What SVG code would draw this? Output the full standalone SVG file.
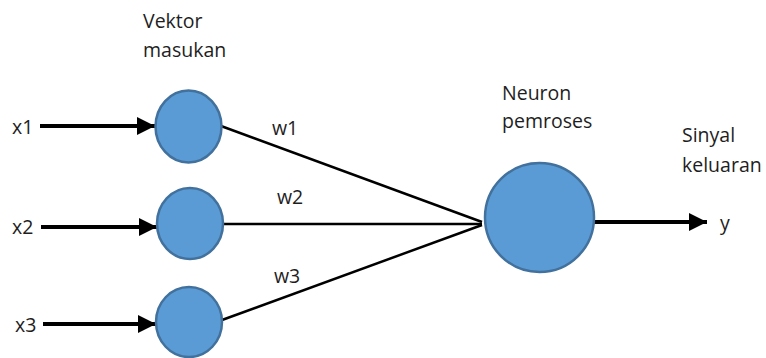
<svg xmlns="http://www.w3.org/2000/svg" width="766" height="358" viewBox="0 0 766 358">
  <style>
    text { font-family: "Open Sans", "Liberation Sans", Arial, sans-serif; font-size: 19.5px; fill: #1e1e1e; }
    .node { fill: #5B9BD5; stroke: #41719C; stroke-width: 2.5; }
    .arrow { stroke: #000; stroke-width: 4; fill: none; }
    .link { stroke: #000; stroke-width: 2.5; fill: none; }
  </style>
  <defs>
    <marker id="head" viewBox="0 0 10 10" refX="10" refY="5" markerWidth="4.5" markerHeight="4.5" markerUnits="strokeWidth" orient="auto">
      <path d="M0,0 L10,5 L0,10 Z" fill="#000"/>
    </marker>
  </defs>

  <rect width="766" height="358" fill="#fff"/>

  <!-- captions -->
  <text x="143" y="28">Vektor</text>
  <text x="143" y="57">masukan</text>
  <text x="502" y="100">Neuron</text>
  <text x="502" y="128">pemroses</text>
  <text x="682" y="142">Sinyal</text>
  <text x="682" y="172">keluaran</text>

  <!-- connectors -->
  <g id="connectors">
    <line class="arrow" x1="40" y1="126" x2="155" y2="126" marker-end="url(#head)"/>
    <line class="arrow" x1="41" y1="227" x2="157" y2="227" marker-end="url(#head)"/>
    <line class="arrow" x1="43" y1="324" x2="156" y2="324" marker-end="url(#head)"/>
    <line class="link" x1="221" y1="126" x2="482" y2="222"/>
    <line class="link" x1="223" y1="224" x2="482" y2="224"/>
    <line class="link" x1="222" y1="320" x2="482" y2="225"/>
    <line class="arrow" x1="594" y1="222" x2="707" y2="222" marker-end="url(#head)"/>
    <text x="272" y="135">w1</text>
    <text x="277" y="204">w2</text>
    <text x="274" y="283">w3</text>
  </g>

  <!-- input nodes -->
  <g id="in1">
    <ellipse class="node" cx="188.5" cy="126.5" rx="33" ry="36"/>
    <text x="12" y="134">x1</text>
  </g>
  <g id="in2">
    <ellipse class="node" cx="190" cy="223.5" rx="33" ry="35.5"/>
    <text x="12" y="234">x2</text>
  </g>
  <g id="in3">
    <ellipse class="node" cx="189" cy="322" rx="33" ry="35"/>
    <text x="15" y="332">x3</text>
  </g>

  <!-- processing neuron -->
  <g id="neuron">
    <ellipse class="node" cx="539.5" cy="217.5" rx="54.5" ry="54.5"/>
  </g>

  <!-- output -->
  <g id="out">
    <text x="720" y="230">y</text>
  </g>
</svg>
